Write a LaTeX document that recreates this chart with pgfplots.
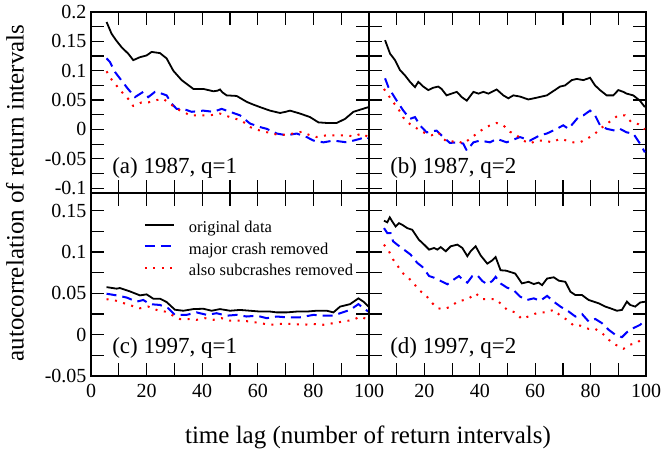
\documentclass[border=0pt]{standalone}
\usepackage{fontspec}
\setmainfont{Liberation Serif}
\usepackage{pgfplots}
\pgfplotsset{compat=1.18}
\tikzset{
  plabel/.style={font=\fontsize{23}{23}\selectfont, anchor=west, inner sep=0pt},
  origline/.style={black, solid, line width=1.8pt},
  majline/.style={blue, line width=2pt, dash pattern=on 10pt off 6pt},
  subline/.style={red, line width=2pt, dash pattern=on 2pt off 6.5pt},
}
\pgfplotsset{
  panel/.style={
    scale only axis, width=278pt,
    xmin=0, xmax=100,
    axis line style={line width=1.6pt},
    every tick/.style={black, line width=1.2pt},
    major tick length=13pt, minor tick length=13pt,
    tick align=inside,
    xtick={0,20,40,60,80,100},
    minor xtick={10,30,50,70,90},
    xticklabels={0,20,40,60,80,100},
    tick label style={font=\fontsize{20}{20}\selectfont},
    xticklabel style={yshift=-5pt},
    yticklabel style={xshift=-1pt},
    clip=true,
  },
  toprow/.style={panel, height=181pt, ymin=-0.1083, ymax=0.2,
    ytick={-0.1,-0.05,0,0.05,0.1,0.15,0.2},
    minor ytick={-0.075,-0.025,0.025,0.075,0.125,0.175},
    yticklabels={-0.1,-0.05,0,0.05,0.1,0.15,0.2}},
  botrow/.style={panel, height=183pt, ymin=-0.05, ymax=0.1715,
    ytick={-0.05,0,0.05,0.1,0.15},
    minor ytick={-0.025,0.025,0.075,0.125},
    yticklabels={-0.05,0,0.05,0.1,0.15}},
}
\begin{document}
\begin{tikzpicture}
\path[use as bounding box] (0,0) rectangle (661pt,-453pt);
% (a)
\begin{axis}[toprow, at={(91pt,-12pt)}, anchor=north west, xticklabels={}]
\addplot[origline] coordinates {(5.6,0.183)(7.4,0.163)(9,0.152)(11,0.14)(13.4,0.129)(15.2,0.118)(17.6,0.123)(20,0.126)(21.8,0.132)(24.8,0.130)(27.2,0.121)(29.6,0.10)(32.6,0.084)(36.8,0.069)(40.4,0.069)(44,0.065)(45.5,0.066)(46.4,0.068)(47.3,0.063)(48.8,0.058)(52.4,0.057)(56,0.047)(58,0.043)(60.8,0.038)(64.4,0.032)(68,0.028)(70,0.030)(71.6,0.032)(75.2,0.027)(78.8,0.021)(81.8,0.012)(84.8,0.011)(88.4,0.011)(91.4,0.018)(94.4,0.030)(99.8,0.038)};
\addplot[majline] coordinates {(5.6,0.121)(6.8,0.115)(8.6,0.098)(12.8,0.072)(15.8,0.055)(18.8,0.064)(20.6,0.055)(23,0.064)(25.4,0.061)(27.2,0.058)(29,0.044)(30.8,0.035)(33.2,0.035)(36.2,0.030)(40.4,0.032)(44,0.030)(47,0.035)(50,0.030)(53.6,0.024)(57.2,0.010)(60.8,0.004)(63.2,0.001)(66.8,-0.007)(70.4,-0.010)(74,-0.007)(77.6,-0.013)(80,-0.019)(83.6,-0.022)(87.2,-0.019)(92,-0.022)(96.8,-0.016)(98.6,-0.013)(99.8,-0.015)};
\addplot[subline] coordinates {(5.6,0.099)(7.4,0.085)(11,0.064)(13.4,0.052)(15.2,0.040)(18.2,0.046)(20.6,0.046)(23.6,0.050)(26,0.052)(28.4,0.044)(30.8,0.035)(33.2,0.030)(35.6,0.024)(39.2,0.024)(42.8,0.024)(46.4,0.027)(50,0.021)(54.2,0.015)(57.2,0.004)(60.8,-0.002)(64.4,-0.006)(68,-0.010)(72.8,-0.007)(75.8,-0.004)(78.8,-0.010)(81.2,-0.013)(84.8,-0.010)(88.4,-0.010)(92,-0.010)(94.4,-0.012)(97.4,-0.007)(99.8,-0.013)};
\node[plabel] at (axis description cs:0.076,0.14) {(a) 1987, q=1};
\end{axis}
% (b)
\begin{axis}[toprow, at={(369pt,-12pt)}, anchor=north west, width=277pt, xticklabels={}, yticklabels={}]
\addplot[origline] coordinates {(5.8,0.152)(7.6,0.129)(9.4,0.118)(11.2,0.101)(13,0.092)(14.8,0.081)(16.6,0.072)(17.8,0.081)(19.6,0.073)(21.4,0.067)(23.2,0.071)(25,0.073)(26.2,0.069)(28,0.058)(29.8,0.061)(31.7,0.064)(33.5,0.055)(35.3,0.049)(37.7,0.064)(39.5,0.061)(41.3,0.064)(43.1,0.061)(46.1,0.068)(48.5,0.058)(50.3,0.053)(52.1,0.058)(54.5,0.056)(57.5,0.051)(60.5,0.054)(64.2,0.058)(67.1,0.067)(69,0.073)(70.8,0.075)(73.2,0.084)(75,0.086)(77.4,0.084)(79.8,0.088)(81.6,0.075)(83.4,0.067)(85.8,0.058)(88.2,0.058)(90,0.067)(91.8,0.064)(93,0.061)(95.4,0.058)(97.8,0.049)(99.6,0.038)};
\addplot[majline] coordinates {(5.8,0.087)(7,0.072)(8.8,0.058)(10,0.049)(12.4,0.032)(14.8,0.018)(16.6,0.021)(18.4,0.007)(20.8,-0.005)(24.4,-0.002)(26.8,-0.013)(29.2,-0.023)(31.7,-0.022)(34,-0.024)(35.3,-0.036)(37.7,-0.022)(40.1,-0.019)(43.7,-0.022)(46.1,-0.016)(49.7,-0.022)(54.5,-0.013)(58.1,-0.019)(61.7,-0.010)(64.2,-0.007)(67.8,0.001)(70.1,0.007)(72,0.001)(75.6,0.021)(77.4,0.024)(79.8,0.032)(81.6,0.024)(83.4,0.007)(85.8,0.001)(88.8,-0.002)(90.6,0.001)(93,-0.005)(95.4,-0.007)(97.8,-0.024)(99.6,-0.039)};
\addplot[subline] coordinates {(5.4,0.069)(7,0.058)(8.8,0.046)(10.6,0.035)(12.4,0.020)(14.8,0.009)(17.2,0.002)(19,-0.004)(20.8,-0.007)(22.6,-0.010)(25,-0.005)(26.8,-0.016)(28.6,-0.022)(31.7,-0.019)(34,-0.024)(36.5,-0.016)(38.9,-0.007)(41.3,0.001)(43.7,0.007)(46.1,0.011)(48.5,0.007)(50.9,-0.004)(53.3,-0.010)(55.7,-0.019)(58.1,-0.024)(60.5,-0.019)(63.5,-0.019)(66,-0.022)(69,-0.016)(71.4,-0.019)(73.8,-0.022)(76.2,-0.022)(78.6,-0.016)(81,-0.010)(83.4,0.001)(85.8,0.009)(88.2,0.018)(90,0.024)(92.4,0.024)(94.8,0.012)(97.2,0.009)(99.6,0.000)};
\node[plabel] at (axis description cs:0.076,0.14) {(b) 1987, q=2};
\end{axis}
% (c)
\begin{axis}[botrow, at={(91pt,-193pt)}, anchor=north west,
  legend style={draw=none, fill=none, inner sep=0pt, outer sep=0pt,
    at={(axis description cs:0.1906,0.845)}, anchor=north west,
    font=\fontsize{16.5}{16.5}\selectfont, row sep=7.2pt, column sep=14pt,
    nodes={inner sep=0pt, outer sep=0pt, text height=11pt, text depth=3.5pt}},
  legend cell align=left,
  legend image code/.code={\draw[#1] (0pt,4pt) -- (29pt,4pt);}]
\addplot[origline] coordinates {(5.6,0.0576)(9.2,0.0557)(10.4,0.0565)(14,0.0524)(17.6,0.0476)(20,0.0488)(22.4,0.0436)(24.8,0.0436)(27.2,0.0395)(30.2,0.0302)(33.2,0.029)(36.8,0.031)(40.4,0.0314)(43.4,0.029)(46.4,0.031)(50,0.029)(53.6,0.030)(57.2,0.029)(60.8,0.028)(64.4,0.028)(66.8,0.027)(70.4,0.027)(74,0.028)(77.6,0.028)(81.2,0.029)(84.8,0.029)(87.2,0.027)(89.6,0.034)(93.2,0.037)(96.2,0.044)(98,0.040)(99.8,0.034)};
\addlegendentry{original data}
\addplot[majline] coordinates {(5.6,0.0496)(9.2,0.0476)(12.8,0.045)(16.4,0.040)(18.8,0.042)(21.2,0.037)(24.8,0.036)(27.8,0.032)(30.2,0.024)(34.4,0.024)(38,0.027)(41.6,0.024)(45.2,0.026)(48.8,0.023)(52.4,0.024)(56,0.022)(59.6,0.023)(63.2,0.020)(66.8,0.022)(70.4,0.021)(75.2,0.021)(80,0.024)(83.6,0.023)(87.2,0.023)(89.6,0.026)(93.2,0.030)(96.2,0.037)(98,0.032)(99.8,0.028)};
\addlegendentry{major crash removed}
\addplot[subline] coordinates {(5.6,0.043)(9.2,0.041)(12.8,0.037)(17.6,0.032)(20.6,0.034)(23.6,0.030)(26.6,0.028)(29,0.024)(32,0.019)(35,0.019)(38,0.018)(41,0.020)(44,0.018)(47,0.020)(50,0.017)(53.6,0.017)(57.2,0.016)(60.8,0.014)(64.4,0.012)(68,0.013)(72.8,0.013)(76.4,0.012)(80,0.013)(83.6,0.012)(87.2,0.014)(90.8,0.016)(94.4,0.018)(96.8,0.022)(99.8,0.018)};
\addlegendentry{also subcrashes removed}
\node[plabel] at (axis description cs:0.076,0.155) {(c) 1997, q=1};
\end{axis}
% (d)
\begin{axis}[botrow, at={(369pt,-193pt)}, anchor=north west, width=277pt,
  xticklabels={,20,40,60,80,100}, yticklabels={}]
\addplot[origline] coordinates {(5.4,0.138)(6.6,0.136)(7.5,0.142)(8.4,0.137)(9.6,0.131)(10.8,0.135)(12,0.133)(13.8,0.129)(15.6,0.127)(16.8,0.121)(18,0.115)(19.9,0.109)(21.7,0.103)(23.5,0.105)(24.7,0.103)(25.9,0.106)(27.7,0.101)(29.5,0.107)(31.9,0.109)(33.7,0.105)(35.5,0.095)(36.7,0.101)(38.5,0.107)(40.3,0.096)(42.7,0.086)(44.5,0.090)(45.7,0.094)(47.5,0.078)(49.5,0.0775)(52.8,0.074)(55.2,0.0621)(57.6,0.064)(59.5,0.0613)(61.2,0.063)(62.5,0.060)(64.3,0.068)(66.7,0.0695)(68.5,0.0654)(70.9,0.064)(72.7,0.052)(74.5,0.048)(76.9,0.048)(79.3,0.042)(81.1,0.040)(82.9,0.038)(85.3,0.034)(87.1,0.032)(89.5,0.029)(91.3,0.030)(93.1,0.040)(94.3,0.036)(96.1,0.034)(97.9,0.039)(99.8,0.040)};
\addplot[majline] coordinates {(5.4,0.129)(6.6,0.123)(7.8,0.123)(8.7,0.113)(10.2,0.109)(12.6,0.103)(15,0.097)(17.4,0.087)(19.3,0.082)(21.7,0.071)(23.5,0.069)(25.9,0.065)(28.3,0.061)(30.7,0.067)(32.5,0.071)(34.3,0.065)(35.5,0.063)(37.3,0.071)(39.1,0.072)(40.9,0.065)(42.7,0.061)(44.5,0.065)(45.7,0.070)(47.5,0.062)(49.8,0.057)(52.2,0.054)(54.6,0.046)(57,0.042)(59.5,0.044)(61.8,0.041)(64.3,0.047)(66.7,0.040)(69.1,0.034)(72.1,0.028)(74.5,0.022)(76.9,0.025)(79.3,0.016)(81.7,0.019)(84.1,0.014)(86.5,0.006)(88.9,0.000)(91.3,-0.003)(93.1,0.003)(95.5,0.008)(97.9,0.012)(99.8,0.018)};
\addplot[subline] coordinates {(5.4,0.109)(7.2,0.101)(8.7,0.091)(10.2,0.084)(12,0.075)(14.2,0.069)(16.2,0.062)(18,0.054)(20.5,0.048)(22.3,0.040)(24.7,0.032)(27.1,0.031)(29.5,0.034)(31.9,0.040)(34.3,0.042)(36.1,0.044)(38.5,0.050)(40.9,0.043)(43.3,0.043)(45.7,0.043)(48.1,0.036)(49.9,0.030)(52.8,0.027)(55.2,0.019)(58.2,0.023)(61.2,0.027)(63.6,0.027)(66.7,0.030)(69.1,0.023)(71.5,0.018)(73.9,0.011)(76.3,0.011)(79.3,0.007)(81.7,0.007)(84.1,0.002)(86.5,-0.006)(88.9,-0.012)(91.9,-0.017)(94.3,-0.012)(96.7,-0.010)(99.2,-0.003)};
\node[plabel] at (axis description cs:0.076,0.155) {(d) 1997, q=2};
\end{axis}
\node[rotate=90, font=\fontsize{25}{25}\selectfont, inner sep=0pt] at (15pt,-193pt) {autocorrelation of return intervals};
\node[font=\fontsize{25}{25}\selectfont, inner sep=0pt] at (368pt,-437pt) {time lag (number of return intervals)};
\end{tikzpicture}
\end{document}
